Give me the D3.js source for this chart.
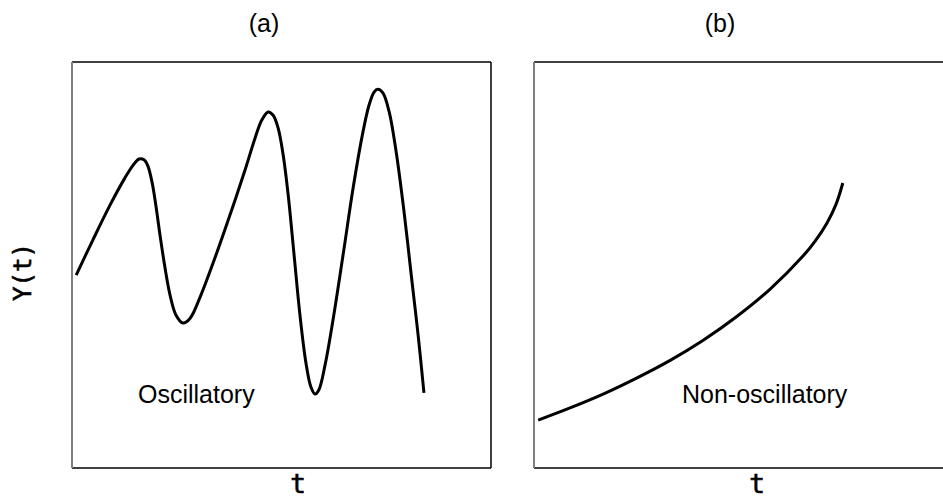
<!DOCTYPE html>
<html>
<head>
<meta charset="utf-8">
<script src="https://cdn.jsdelivr.net/npm/d3@7"></script>
<style>
  html, body { margin: 0; padding: 0; background: #fff; }
  svg { display: block; }
</style>
</head>
<body>
<svg id="chart" width="943" height="500"></svg>
<script>
// Panel (a): oscillatory response, samples of Y(t)
const oscT = [0.10, 0.50, 0.91, 1.26, 1.46, 1.60, 1.72, 1.81, 1.91, 2.00, 2.10, 2.22, 2.34, 2.48, 2.65, 2.82, 3.05, 3.41, 3.77, 4.13, 4.37, 4.53, 4.68, 4.80, 4.92, 5.04, 5.16, 5.30, 5.44, 5.58, 5.70, 5.80, 5.89, 6.04, 6.23, 6.47, 6.71, 6.92, 7.09, 7.21, 7.30, 7.42, 7.57, 7.73, 7.92, 8.11, 8.26, 8.40];
const oscY = [4.75, 5.62, 6.48, 7.14, 7.46, 7.61, 7.59, 7.44, 7.04, 6.48, 5.74, 4.93, 4.26, 3.77, 3.57, 3.69, 4.19, 5.17, 6.23, 7.34, 8.13, 8.57, 8.77, 8.69, 8.37, 7.71, 6.72, 5.25, 3.77, 2.61, 2.00, 1.82, 1.92, 2.54, 3.65, 5.25, 6.90, 8.15, 8.94, 9.26, 9.33, 9.24, 8.77, 7.83, 6.35, 4.63, 3.28, 1.85];

// Panel (b): non-oscillatory (monotone growth)
const monoT = [0.10, 0.86, 1.65, 2.46, 3.25, 4.03, 4.84, 5.63, 6.42, 6.71, 6.99, 7.21, 7.37];
const monoY = [1.18, 1.48, 1.82, 2.22, 2.65, 3.14, 3.73, 4.40, 5.22, 5.59, 6.03, 6.50, 7.02];

const panelTitles = ["(a)", "(b)"];
const panelNotes = ["Oscillatory", "Non-oscillatory"];
const xLabel = "t";
const yLabel = "Y(t)";

const svg = d3.select("#chart");

const panels = [
  { left: 72,  title: panelTitles[0], titleX: 264, note: panelNotes[0], noteX: 138, labelX: 298,
    t: oscT, y: oscY },
  { left: 534, title: panelTitles[1], titleX: 720, note: panelNotes[1], noteX: 682, labelX: 757,
    t: monoT, y: monoY }
];
const frameTop = 62, frameBottom = 468, frameWidth = 419;

panels.forEach(p => {
  const x = d3.scaleLinear().domain([0, 10]).range([p.left, p.left + frameWidth]);
  const y = d3.scaleLinear().domain([0, 10]).range([frameBottom, frameTop]);
  const g = svg.append("g");

  // frame: top, right, bottom in black, left edge in grey
  g.append("line").attr("x1", p.left).attr("x2", p.left + frameWidth)
    .attr("y1", frameTop).attr("y2", frameTop).attr("stroke", "#000").attr("stroke-width", 1.5);
  g.append("line").attr("x1", p.left).attr("x2", p.left + frameWidth)
    .attr("y1", frameBottom).attr("y2", frameBottom).attr("stroke", "#000").attr("stroke-width", 1.5);
  g.append("line").attr("x1", p.left + frameWidth).attr("x2", p.left + frameWidth)
    .attr("y1", frameTop).attr("y2", frameBottom).attr("stroke", "#000").attr("stroke-width", 1.5);
  g.append("line").attr("x1", p.left).attr("x2", p.left)
    .attr("y1", frameTop).attr("y2", frameBottom).attr("stroke", "#808080").attr("stroke-width", 2);

  const pts = p.t.map((t, i) => [t, p.y[i]]);
  const line = d3.line().x(d => x(d[0])).y(d => y(d[1])).curve(d3.curveCatmullRom.alpha(0.5));
  g.append("path").attr("d", line(pts))
    .attr("fill", "none").attr("stroke", "#000").attr("stroke-width", 3)
    .attr("stroke-linejoin", "round").attr("stroke-linecap", "butt");

  g.append("text").attr("x", p.titleX).attr("y", 32)
    .attr("text-anchor", "middle")
    .attr("font-family", "'Liberation Sans', Arial, sans-serif").attr("font-size", 25)
    .text(p.title);

  g.append("text").attr("x", p.noteX).attr("y", 403)
    .attr("font-family", "'Liberation Sans', Arial, sans-serif").attr("font-size", 25)
    .text(p.note);

  g.append("text").attr("x", p.labelX).attr("y", 493)
    .attr("text-anchor", "middle")
    .attr("font-family", "'DejaVu Sans Mono', monospace").attr("font-size", 26)
    .attr("stroke", "#000").attr("stroke-width", 0.6)
    .text(xLabel);
});

svg.append("text")
  .attr("transform", "translate(31,272) rotate(-90)")
  .attr("text-anchor", "middle")
  .attr("font-family", "'DejaVu Sans Mono', monospace").attr("font-size", 24)
  .attr("stroke", "#000").attr("stroke-width", 0.6)
  .text(yLabel);
</script>
</body>
</html>
